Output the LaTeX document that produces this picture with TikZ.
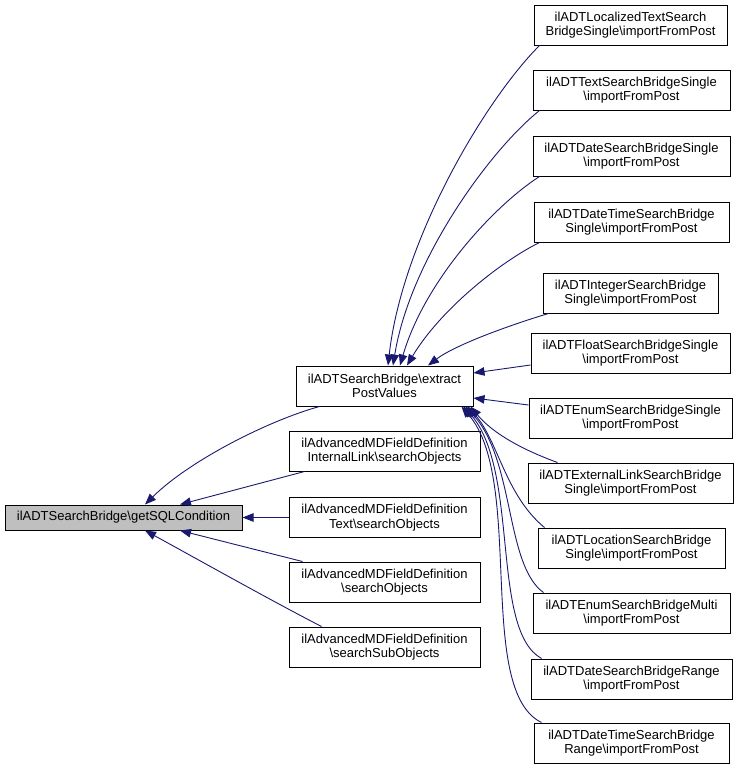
\documentclass[tikz,border=0pt]{standalone}
\usepackage{fontspec}
\setmainfont{Liberation Sans}
\usetikzlibrary{arrows.meta}
\definecolor{edgeblue}{RGB}{25,25,112}
\definecolor{hl}{RGB}{191,191,191}
\newcommand{\myBS}{\textbackslash}
\begin{document}
\begin{tikzpicture}[x=1pt,y=-1pt,
 box/.style={draw=black,line width=1pt,rectangle,inner sep=0pt,align=center,minimum height=40pt,font=\fontsize{13}{14.5}\selectfont},
 edge/.style={draw=edgeblue,line width=0.9pt,-{Triangle[length=11pt,width=8.5pt]}}]
\useasboundingbox (0,0) rectangle (739,771);
% left
\node[box,fill=hl,minimum width=237pt,minimum height=25pt] (sql) at (123.5,517.5) {ilADTSearchBridge\myBS getSQLCondition};
% middle
\node[box,minimum width=177pt] (epv) at (384.5,386) {ilADTSearchBridge\myBS extract\\PostValues};
\node[box,minimum width=191pt] (il) at (384.5,451) {ilAdvancedMDFieldDefinition\\InternalLink\myBS searchObjects};
\node[box,minimum width=191pt] (txt) at (384.5,517.5) {ilAdvancedMDFieldDefinition\\Text\myBS searchObjects};
\node[box,minimum width=191pt] (so) at (384.5,582) {ilAdvancedMDFieldDefinition\\\myBS searchObjects};
\node[box,minimum width=191pt] (sso) at (384.5,647) {ilAdvancedMDFieldDefinition\\\myBS searchSubObjects};
% right
\node[box,minimum width=193pt] (r1) at (630.5,25) {ilADTLocalizedTextSearch\\BridgeSingle\myBS importFromPost};
\node[box,minimum width=197pt] (r2) at (631.5,90) {ilADTTextSearchBridgeSingle\\\myBS importFromPost};
\node[box,minimum width=197pt] (r3) at (631.5,156) {ilADTDateSearchBridgeSingle\\\myBS importFromPost};
\node[box,minimum width=195pt] (r4) at (631.5,222) {ilADTDateTimeSearchBridge\\Single\myBS importFromPost};
\node[box,minimum width=175pt] (r5) at (630.5,293) {ilADTIntegerSearchBridge\\Single\myBS importFromPost};
\node[box,minimum width=199pt] (r6) at (630.5,353) {ilADTFloatSearchBridgeSingle\\\myBS importFromPost};
\node[box,minimum width=203pt] (r7) at (630.5,418) {ilADTEnumSearchBridgeSingle\\\myBS importFromPost};
\node[box,minimum width=205pt] (r8) at (630.5,483) {ilADTExternalLinkSearchBridge\\Single\myBS importFromPost};
\node[box,minimum width=187pt] (r9) at (631.5,548) {ilADTLocationSearchBridge\\Single\myBS importFromPost};
\node[box,minimum width=197pt] (r10) at (631.5,613) {ilADTEnumSearchBridgeMulti\\\myBS importFromPost};
\node[box,minimum width=201pt] (r11) at (631.5,679) {ilADTDateSearchBridgeRange\\\myBS importFromPost};
\node[box,minimum width=195pt] (r12) at (631.5,743) {ilADTDateTimeSearchBridge\\Range\myBS importFromPost};
% edges into extractPostValues
\draw[edge] ([xshift=6pt]r1.south west) .. controls (485,100) and (402,240) .. ([xshift=3.5pt]epv.north);
\draw[edge] ([xshift=7pt]r2.south west) .. controls (490,150) and (410,260) .. ([xshift=8.5pt]epv.north);
\draw[edge] ([xshift=7pt]r3.south west) .. controls (495,205) and (425,280) .. ([xshift=15.5pt]epv.north);
\draw[edge] ([xshift=6pt]r4.south west) .. controls (500,262) and (440,310) .. ([xshift=22.5pt]epv.north);
\draw[edge] ([xshift=6pt]r5.south west) .. controls (510,325) and (455,345) .. ([xshift=43.5pt]epv.north);
\draw[edge] ([yshift=-12pt]r6.west) -- ([yshift=13pt]epv.east);
\draw[edge] ([yshift=13pt]r7.west) -- ([yshift=-12pt]epv.east);
\draw[edge] ([xshift=30pt]r8.north west) .. controls (515,447) and (490,430) .. ([xshift=-3pt]epv.south east);
\draw[edge] ([xshift=7pt]r9.north west) .. controls (505,495) and (498,440) .. ([xshift=-6pt]epv.south east);
\draw[edge] ([xshift=11pt]r10.north west) .. controls (505,565) and (515,460) .. ([xshift=-8pt]epv.south east);
\draw[edge] ([xshift=11pt]r11.north west) .. controls (490,630) and (520,470) .. ([xshift=-10pt]epv.south east);
\draw[edge] ([xshift=8pt]r12.north west) .. controls (475,690) and (525,480) .. ([xshift=-12pt]epv.south east);
% edges into getSQLCondition
\draw[edge] ([xshift=24pt]epv.south west) .. controls (270,420) and (190,460) .. ([xshift=21.5pt]sql.north);
\draw[edge] ([xshift=16pt]il.south west) -- ([xshift=56.5pt]sql.north);
\draw[edge] (txt.west) -- (sql.east);
\draw[edge] ([xshift=14pt]so.north west) -- ([xshift=56.5pt]sql.south);
\draw[edge] ([xshift=33pt]sso.north west) .. controls (270,600) and (190,555) .. ([xshift=21.5pt]sql.south);
\end{tikzpicture}
\end{document}
